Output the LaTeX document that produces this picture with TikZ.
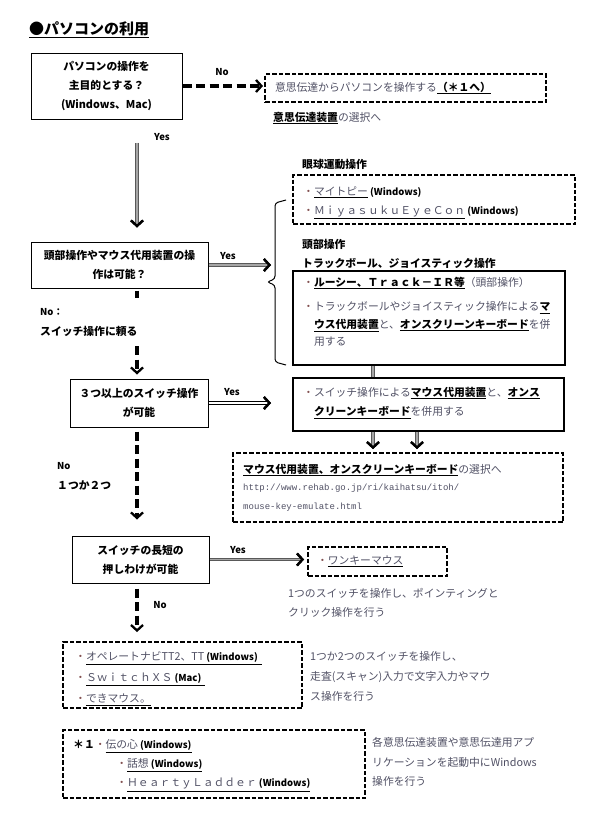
\documentclass[tikz,border=0pt]{standalone}
\usepackage{fontspec}
\setmainfont{Noto Sans CJK JP}
\newfontfamily\urlfont{Liberation Mono}
\usetikzlibrary{arrows.meta}

\definecolor{minchogray}{RGB}{80,80,100}
\definecolor{bulletred}{RGB}{130,80,80}
\newcommand{\mtxt}[1]{{\color{minchogray}#1}}
\newcommand{\bul}{{\color{bulletred}・}}
\newcommand{\win}{{\bfseries\fontsize{9.5}{12}\selectfont\ (Windows)}}

\tikzset{
  qbox/.style={draw, line width=1pt, align=center, inner sep=0pt,
    font=\bfseries\fontsize{10.8}{19}\selectfont},
  dashbox/.style={draw, line width=1.9pt, dash pattern=on 4.5pt off 2pt, inner sep=0pt},
  thickbox/.style={draw, line width=2pt, inner sep=0pt},
  body/.style={anchor=west, inner sep=0pt, font=\fontsize{10.8}{19}\selectfont},
  bodyblock/.style={anchor=north west, align=left, inner sep=0pt, font=\fontsize{10.8}{19}\selectfont},
  urltxt/.style={anchor=west, inner sep=0pt, text=minchogray, font=\urlfont\fontsize{9}{11}\selectfont},
  head/.style={anchor=west, inner sep=0pt, font=\bfseries\fontsize{10.8}{12}\selectfont},
  lbl/.style={inner sep=1pt, font=\bfseries\fontsize{9.5}{11}\selectfont},
  chevron/.style={-{Straight Barb[length=5.5pt,width=12pt,line width=2.3pt,color=black]}},
  nodash/.style={line width=3.6pt, dash pattern=on 9pt off 4.5pt},
  noline/.style={nodash, chevron},
  graylink/.style={draw=black!35, line width=1.5pt, preaction={draw=black!65, line width=3.3pt}},
  yesgray/.style={graylink, chevron},
  yeswhite/.style={draw=white, line width=1.3pt, preaction={draw=black, line width=3.3pt}, chevron},
}

\begin{document}
\begin{tikzpicture}[x=1pt, y=-1pt]
    \useasboundingbox (0,0) rectangle (601,825);
    \coordinate (spine)  at (137,0);
    \coordinate (yestip) at (271,0);
    \coordinate (linkA)  at (373,0);
    \coordinate (linkB)  at (417,0);

    % title
    \node[anchor=west, inner sep=0pt, font=\bfseries\fontsize{15}{18}\selectfont] (title) at (29,30) {\underline{●パソコンの利用}};

    % questions
    \node[qbox, minimum width=151pt, minimum height=66pt] (q1) at (106.5,86) {パソコンの操作を\\主目的とする？\\(Windows、Mac)};
    \node[qbox, minimum width=177pt, minimum height=46pt] (q2) at (119.5,265) {頭部操作やマウス代用装置の操\\作は可能？};
    \node[qbox, minimum width=138pt, minimum height=48pt] (q3) at (139,403) {３つ以上のスイッチ操作\\が可能};
    \node[qbox, minimum width=137pt, minimum height=47pt] (q4) at (140.5,559.5) {スイッチの長短の\\押しわけが可能};

    % pasokon via ishi dentatsu
    \node[dashbox, minimum height=28pt, text width=261pt, inner xsep=10pt, align=left,
          font=\fontsize{10.8}{19}\selectfont] (res1) at (405.5,88)
        {\mtxt{意思伝達からパソコンを操作する}\underline{\bfseries（＊１へ）}};
    \node[body] (res1note) at (273,118) {\underline{\bfseries 意思伝達装置}\mtxt{の選択へ}};

    % eye
    \node[head] (eyehead) at (302,164) {眼球運動操作};
    \node[dashbox, minimum width=282pt, minimum height=49pt] (eyebox) at (434,199.5) {};
    \node[bodyblock] (eyetext) at (303,186.6)
        {\bul\underline{\mtxt{マイトピー}}\win\\
         \bul\underline{\mtxt{ＭｉｙａｓｕｋｕＥｙｅＣｏｎ}}\win};

    % head / trackball
    \node[head] (headop) at (302,244) {頭部操作};
    \node[head] (trackop) at (302,263) {トラックボール、ジョイスティック操作};
    \node[thickbox, minimum width=272pt, minimum height=94pt] (track) at (429,318) {};
    \node[body] (track1) at (303,283) {\bul\underline{\bfseries ルーシー、Ｔｒａｃｋ－ＩＲ等}\mtxt{（頭部操作）}};
    \node[bodyblock, font=\fontsize{10.8}{17.5}\selectfont] (track2) at (303,301.6)
        {\bul\mtxt{トラックボールやジョイスティック操作による}\underline{\bfseries マ}\\
         \hspace*{1em}\underline{\bfseries ウス代用装置}\mtxt{と、}\underline{\bfseries オンスクリーンキーボード}\mtxt{を併}\\
         \hspace*{1em}\mtxt{用する}};
    \draw[line width=1pt, rounded corners=3pt] (286,200) -- (275,203) -- (275,279) -- (267,282)
        -- (275,285) -- (275,362) -- (286,365);

    % switch
    \node[thickbox, minimum width=271pt, minimum height=53pt] (switchbox) at (428.5,404.5) {};
    \node[bodyblock, font=\fontsize{10.8}{19.5}\selectfont] (switchtext) at (303,386.6)
        {\bul\mtxt{スイッチ操作による}\underline{\bfseries マウス代用装置}\mtxt{と、}\underline{\bfseries オンス}\\
         \hspace*{1em}\underline{\bfseries クリーンキーボード}\mtxt{を併用する}};

    % selection
    \node[dashbox, minimum width=330pt, minimum height=69pt] (selbox) at (398,487.5) {};
    \node[body] (sel1) at (243,470) {\underline{\bfseries マウス代用装置、オンスクリーンキーボード}\mtxt{の選択へ}};
    \node[urltxt] (sel2) at (243,488) {http://www.rehab.go.jp/ri/kaihatsu/itoh/};
    \node[urltxt] (sel3) at (243,507) {mouse-key-emulate.html};

    % one key
    \node[dashbox, minimum height=29pt, text width=121pt, inner xsep=9pt, align=left,
          font=\fontsize{10.8}{19}\selectfont] (onekey) at (377.5,561.5) {\bul\underline{\mtxt{ワンキーマウス}}};
    \node[bodyblock, text=minchogray] (onekeynote) at (288,588)
        {1つのスイッチを操作し、ポインティングと\\クリック操作を行う};

    % scan
    \node[dashbox, minimum width=239pt, minimum height=66pt] (scanbox) at (182.5,675) {};
    \node[bodyblock, font=\fontsize{10.8}{21}\selectfont] (scantext) at (75,651.6)
        {\bul\underline{\mtxt{オペレートナビTT2、TT}\win\hspace{4pt}}\\
         \bul\underline{\mtxt{ＳｗｉｔｃｈＸＳ}{\bfseries\fontsize{9.5}{12}\selectfont\ (Mac)}\hspace{4pt}}\\
         \bul\underline{\mtxt{できマウス。}}};
    \node[bodyblock, font=\fontsize{10.8}{20}\selectfont, text=minchogray] (scannote) at (310,651.6)
        {1つか2つのスイッチを操作し、\\走査(スキャン)入力で文字入力やマウ\\ス操作を行う};

    % *1
    \node[dashbox, minimum width=302pt, minimum height=68pt] (ishibox) at (214,764) {};
    \node[bodyblock] (ishitext) at (73,739.6)
        {{\bfseries ＊１}\bul\underline{\mtxt{伝の心}\win}\\
         \hspace*{4em}\bul\underline{\mtxt{話想}\win}\\
         \hspace*{4em}\bul\underline{\mtxt{ＨｅａｒｔｙＬａｄｄｅｒ}\win}};
    \node[bodyblock, font=\fontsize{10.8}{19.5}\selectfont, text=minchogray] (ishinote) at (372,737.6)
        {各意思伝達装置や意思伝達用アプ\\リケーションを起動中にWindows\\操作を行う};

    % connectors
    \draw[noline, shorten >=1pt] (q1.east) -- (q1.east -| res1.west);
    \node[lbl] (noA) at (222,72) {No};

    \draw[yesgray, shorten <=23pt, shorten >=14pt] (q1.south -| spine) -- (q2.north -| spine);
    \node[lbl] (yesA) at (162,137) {Yes};

    \draw[yesgray] (q2.east) -- (q2.east -| yestip);
    \node[lbl] (yesB) at (228,256) {Yes};

    \draw[nodash, shorten <=2pt] (q2.south -| spine) -- ++(0,9);
    \coordinate (noresume) at (137,346);
    \draw[noline, shorten >=4pt] (noresume) -- (q3.north -| spine);
    \node[lbl, anchor=west] (noB) at (39,312) {No：};
    \node[lbl, anchor=west, font=\bfseries\fontsize{10.8}{12}\selectfont] (noBtext) at (39,331) {スイッチ操作に頼る};

    \draw[yeswhite] (q3.east) -- (q3.east -| yestip);
    \node[lbl] (yesC) at (232,392) {Yes};

    \draw[graylink] (track.south -| linkA) -- (switchbox.north -| linkA);
    \draw[yesgray, shorten >=3pt] (switchbox.south -| linkA) -- (selbox.north -| linkA);
    \draw[yesgray, shorten >=3pt] (switchbox.south -| linkB) -- (selbox.north -| linkB);

    \draw[noline, shorten <=4pt, shorten >=16pt] (q3.south -| spine) -- (q4.north -| spine);
    \node[lbl, anchor=west] (noC) at (56,466) {No};
    \node[lbl, anchor=west, font=\bfseries\fontsize{10.8}{12}\selectfont] (noCtext) at (56,485) {１つか２つ};

    \draw[yesgray, shorten >=3pt] (q4.east) -- (q4.east -| onekey.west);
    \node[lbl] (yesD) at (238,550) {Yes};

    \draw[noline, shorten <=5pt, shorten >=9pt] (q4.south -| spine) -- (scanbox.north -| spine);
    \node[lbl] (noD) at (160,605) {No};
\end{tikzpicture}
\end{document}
